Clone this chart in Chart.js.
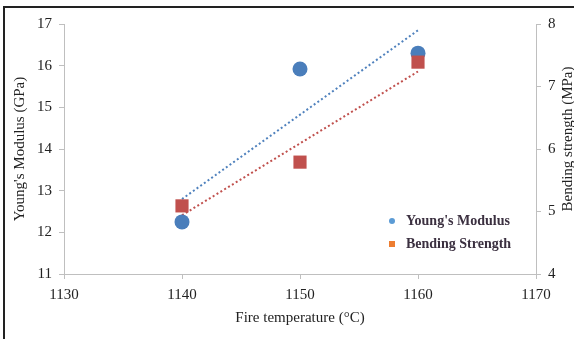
<!DOCTYPE html>
<html>
<head>
<meta charset="utf-8">
<script src="https://cdn.jsdelivr.net/npm/chart.js@4.4.1/dist/chart.umd.min.js"></script>
<style>
	body { margin: 0; background: #fff; }
	canvas { display: block; }
</style>
</head>
<body>
<canvas id="graficoTemperatura" width="574" height="339"></canvas>
<script>
var temperatures = [1140, 1150, 1160];
var youngsModulus = [12.25, 15.92, 16.3];
var bendingStrength = [5.09, 5.79, 7.39];
var seriesNames = ["Young's Modulus", 'Bending Strength'];
var xTicks = [1130, 1140, 1150, 1160, 1170];
var youngTicks = [11, 12, 13, 14, 15, 16, 17];
var bendingTicks = [4, 5, 6, 7, 8];

var Grafico = Grafico || {};

Grafico.Temperatura = (function(){

	var serif = "'Liberation Serif', 'Times New Roman', serif";

	function Temperatura(){
		this.ctx = document.getElementById('graficoTemperatura').getContext('2d');
	}

	function pontos(xs, ys){
		return xs.map(function(x, i){ return {x: x, y: ys[i]}; });
	}

	// least squares trendline between first and last x
	function tendencia(xs, ys){
		var n = xs.length, mx = 0, my = 0, sxy = 0, sxx = 0;
		xs.forEach(function(x, i){ mx += x / n; my += ys[i] / n; });
		xs.forEach(function(x, i){ sxy += (x - mx) * (ys[i] - my); sxx += (x - mx) * (x - mx); });
		var b = sxy / sxx;
		return [xs[0], xs[n - 1]].map(function(x){ return {x: x, y: my + b * (x - mx)}; });
	}

	function fixarTicks(lista){
		return function(axis){
			axis.ticks = lista.map(function(v){ return {value: v}; });
		};
	}

	function eixo(lista, pos, largura){
		return {
			type: 'linear',
			position: pos,
			min: lista[0],
			max: lista[lista.length - 1],
			afterBuildTicks: fixarTicks(lista),
			afterFit: function(s){ if (pos === 'bottom') s.height = largura; else s.width = largura; },
			grid: { drawOnChartArea: false, drawTicks: true, tickLength: 5, color: '#bfbfbf' },
			border: { display: true, color: '#bfbfbf', width: 1 },
			ticks: {
				padding: 7,
				color: '#222',
				font: { family: serif, size: 15 },
				callback: function(v){ return String(v); }
			}
		};
	}

	var extras = {
		id: 'extras',
		afterDraw: function(chart){
			var c = chart.ctx;
			c.save();
			c.fillStyle = '#222';
			c.fillRect(3, 6, 571, 2);
			c.fillRect(3, 6, 2, 333);

			c.translate(568, 139);
			c.rotate(-Math.PI / 2);
			c.font = '15px ' + serif;
			c.textAlign = 'center';
			c.textBaseline = 'middle';
			c.fillText('Bending strength (MPa)', 0, 0);
			c.restore();

			c.save();
			c.font = 'bold 14px ' + serif;
			c.textBaseline = 'middle';
			c.fillStyle = '#5B9BD5';
			c.beginPath();
			c.arc(392, 221, 3, 0, Math.PI * 2);
			c.fill();
			c.fillStyle = '#ED7D31';
			c.fillRect(389, 241, 6, 6);
			c.fillStyle = '#3b3040';
			c.fillText(seriesNames[0], 406, 221);
			c.fillText(seriesNames[1], 406, 244);
			c.restore();
		}
	};

	Temperatura.prototype.iniciar = function(){
		var eixoX = eixo(xTicks, 'bottom', 65);
		eixoX.title = { display: true, text: 'Fire temperature (°C)', color: '#222',
			padding: { top: 0, bottom: 12 }, font: { family: serif, size: 15 } };
		var eixoY = eixo(youngTicks, 'left', 64);
		eixoY.title = { display: true, text: "Young's Modulus (GPa)", color: '#222',
			padding: { top: 11, bottom: 0 }, font: { family: serif, size: 15 } };
		var eixoY2 = eixo(bendingTicks, 'right', 38);

		new Chart(this.ctx, {
			type: 'scatter',
			data: {
				datasets: [{
					label: seriesNames[1],
					data: pontos(temperatures, bendingStrength),
					yAxisID: 'y2',
					pointStyle: 'rect',
					pointRadius: 9.3,
					pointBorderWidth: 0,
					backgroundColor: '#C0504D',
					order: 0
				}, {
					label: seriesNames[0],
					data: pontos(temperatures, youngsModulus),
					yAxisID: 'y',
					pointStyle: 'circle',
					pointRadius: 7.5,
					pointBorderWidth: 0,
					backgroundColor: '#4A7EBB',
					order: 1
				}, {
					label: 'trend young',
					data: tendencia(temperatures, youngsModulus),
					yAxisID: 'y',
					showLine: true,
					pointRadius: 0,
					borderColor: '#4F81BD',
					borderWidth: 2,
					borderDash: [2, 2.5],
					order: 2
				}, {
					label: 'trend bending',
					data: tendencia(temperatures, bendingStrength),
					yAxisID: 'y2',
					showLine: true,
					pointRadius: 0,
					borderColor: '#C0504D',
					borderWidth: 2,
					borderDash: [2, 2.5],
					order: 3
				}]
			},
			options: {
				responsive: false,
				animation: false,
				layout: { padding: { top: 24, left: 0, right: 0, bottom: 0 } },
				plugins: { legend: { display: false }, tooltip: { enabled: false } },
				scales: { x: eixoX, y: eixoY, y2: eixoY2 }
			},
			plugins: [extras]
		});
	};

	return Temperatura;

}());

window.addEventListener('load', function(){
	var grafico = new Grafico.Temperatura();
	grafico.iniciar();
});
</script>
</body>
</html>
